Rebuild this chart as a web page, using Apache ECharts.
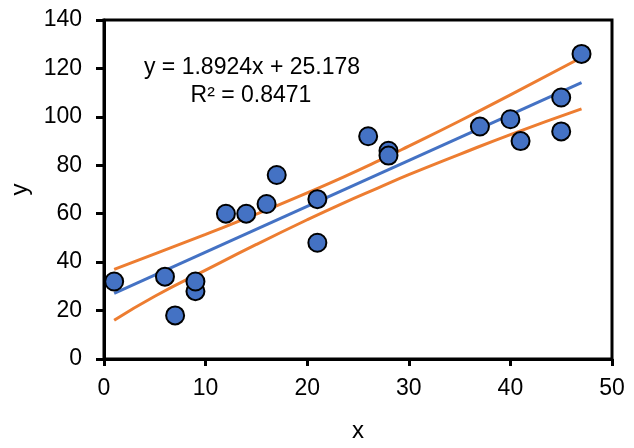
<!DOCTYPE html>
<html>
<head>
<meta charset="utf-8">
<script src="https://cdn.jsdelivr.net/npm/echarts@6/dist/echarts.min.js"></script>
<style>html,body{margin:0;padding:0;background:#fff}#c{width:634px;height:448px}</style>
</head>
<body>
<div id="c"></div>
<script>
// Scatter data
const xs = [1, 6, 7, 9, 9, 12, 14, 16, 17, 21, 21, 26, 28, 28, 37, 40, 41, 45, 45, 47];
const ys = [32, 34, 18, 28, 32, 60, 60, 64, 76, 66, 48, 92, 86, 84, 96, 99, 90, 108, 94, 126];
// Trend line (from the displayed equation), endpoints at data range
const trendX = [1, 47];
const trendY = [27.07, 114.12];
// Confidence band curves
const bandX = [1, 5, 10, 15, 20, 23.5, 27, 30, 35, 40, 47];
const upperY = [37.0, 43.4, 51.5, 59.8, 68.6, 75.0, 81.8, 87.9, 98.3, 109.1, 124.5];
const lowerY = [16.0, 25.9, 36.7, 47.3, 57.5, 64.3, 70.7, 76.1, 84.5, 92.7, 103.3];
const xTicks = [0, 10, 20, 30, 40, 50];
const yTicks = [0, 20, 40, 60, 80, 100, 120, 140];
const eqLine1 = 'y = 1.8924x + 25.178';
const eqLine2 = 'R² = 0.8471';

const zip = (a, b) => a.map((v, i) => [v, b[i]]);
const font = '"Liberation Sans", Arial, sans-serif';
const chart = echarts.init(document.getElementById('c'));
chart.setOption({
  animation: false,
  grid: {left: 101, right: 22, top: 20, bottom: 86, show: true, borderColor: '#000', borderWidth: 3, backgroundColor: 'transparent'},
  xAxis: {
    type: 'value', min: xTicks[0], max: xTicks[xTicks.length - 1], interval: 10,
    name: 'x', nameLocation: 'middle', nameGap: 60,
    nameTextStyle: {fontFamily: font, fontSize: 24, color: '#000'},
    axisLine: {lineStyle: {color: '#000', width: 3}},
    axisTick: {show: true, length: 7, lineStyle: {color: '#000', width: 3}},
    axisLabel: {fontFamily: font, fontSize: 23, color: '#000', margin: 18},
    splitLine: {show: false}
  },
  yAxis: {
    type: 'value', min: yTicks[0], max: yTicks[yTicks.length - 1], interval: 20,
    name: 'y', nameLocation: 'middle', nameGap: 72,
    nameTextStyle: {fontFamily: font, fontSize: 24, color: '#000'},
    axisLine: {lineStyle: {color: '#000', width: 3}},
    axisTick: {show: true, length: 8, lineStyle: {color: '#000', width: 3}},
    axisLabel: {fontFamily: font, fontSize: 23, color: '#000', margin: 22},
    splitLine: {show: false}
  },
  graphic: [
    {type: 'text', x: 252, y: 68, style: {text: eqLine1, font: '23px ' + font, fill: '#000', align: 'center', verticalAlign: 'middle'}},
    {type: 'text', x: 251, y: 96, style: {text: eqLine2, font: '23px ' + font, fill: '#000', align: 'center', verticalAlign: 'middle'}}
  ],
  series: [
    {type: 'line', data: zip(bandX, upperY), showSymbol: false, smooth: true, lineStyle: {color: '#ED7D31', width: 3}, z: 2},
    {type: 'line', data: zip(bandX, lowerY), showSymbol: false, smooth: true, lineStyle: {color: '#ED7D31', width: 3}, z: 2},
    {type: 'line', data: zip(trendX, trendY), showSymbol: false, lineStyle: {color: '#4472C4', width: 3}, z: 2},
    {type: 'scatter', data: zip(xs, ys), symbol: 'circle', symbolSize: 18,
     itemStyle: {color: '#4472C4', borderColor: '#000', borderWidth: 2, opacity: 1}, z: 3}
  ]
});
</script>
</body>
</html>
